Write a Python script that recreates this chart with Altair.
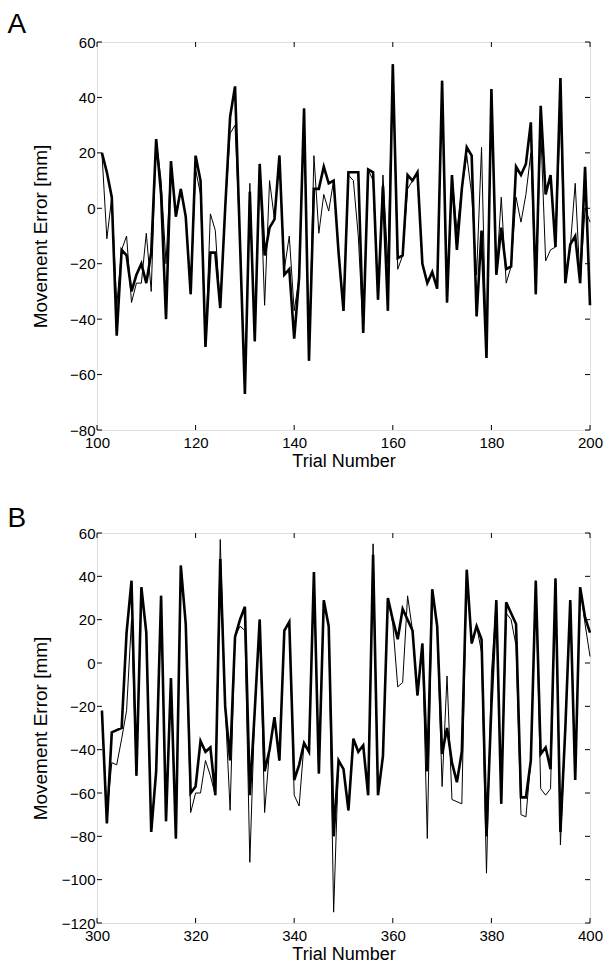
import altair as alt
import pandas as pd

# ---------------- data ----------------
trials_a = list(range(101, 201))
thick_a = [20, 13, 4, -46, -15, -17, -30, -24, -20, -27,
           -16, 25, 5, -40, 17, -3, 7, -3, -31, 19,
           10, -50, -16, -16, -36, 0, 33, 44, -12, -67,
           6, -48, 16, -17, -7, -4, 19, -24, -22, -47,
           -25, 36, -55, 7, 7, 15, 9, 10, -16, -37,
           13, 13, 13, -45, 14, 13, -33, 8, -37, 52,
           -18, -17, 12, 10, 13, -20, -27, -23, -29, 46,
           -34, 12, -15, 7, 22, 19, -39, -8, -54, 43,
           -24, -7, -22, -21, 15, 12, 16, 31, -31, 37,
           5, 12, -14, 47, -27, -13, -10, -27, 15, -35]
thin_a = [20, -11, 4, -35, -15, -10, -34, -27, -27, -9,
          -30, 25, 10, -20, 17, -3, 7, -3, -31, 14,
          5, -50, -2, -8, -36, 0, 27, 30, -12, -67,
          9, -48, 16, -35, 10, -4, 19, -22, -10, -37,
          -25, 36, -55, 19, -9, 5, -1, 10, -16, -37,
          12, 10, -10, -45, 14, 10, -33, 12, -20, 52,
          -22, -17, 7, 10, 13, -20, -27, -23, -29, 46,
          -34, 12, -8, 7, 19, 5, -24, 22, -54, 43,
          -24, 4, -27, -21, 4, -5, 5, 20, -31, 29,
          -19, -15, -14, 35, -27, -14, 9, -27, 0, -5]

trials_b = list(range(301, 401))
thick_b = [-22, -74, -32, -31, -30, 14, 38, -52, 35, 14,
           -78, -50, 31, -73, -7, -81, 45, 18, -60, -57,
           -36, -41, -39, -61, 48, -20, -45, 12, 20, 26,
           -61, -22, 20, -50, -40, -25, -45, 15, 19, -54,
           -47, -37, -41, 42, -51, 29, 17, -80, -45, -49,
           -68, -35, -41, -38, -61, 50, -61, -43, 30, 20,
           11, 25, 20, 15, -15, 9, -50, 34, 17, -42,
           -30, -46, -55, -41, 43, 9, 17, 11, -80, -20,
           29, -65, 28, 23, 18, -62, -62, -45, 38, -42,
           -39, -49, 39, -78, -30, 29, -54, 35, 21, 14]
thin_b = [-22, -70, -46, -47, -35, -22, 20, -52, 35, 14,
          -78, -50, 31, -73, -7, -81, 45, 18, -69, -60,
          -60, -45, -52, -61, 57, -20, -68, 12, 17, 15,
          -92, -22, 20, -69, -40, -25, -45, 15, 19, -61,
          -66, -37, -41, 42, -51, 29, 17, -115, -45, -49,
          -68, -35, -41, -38, -61, 55, -61, -43, 30, 18,
          -11, -9, 31, 15, -15, 9, -81, 34, 17, -57,
          -6, -63, -64, -65, 43, 9, 17, 5, -97, -5,
          29, -65, 23, 20, 8, -70, -71, -45, 38, -58,
          -61, -58, 39, -84, -30, 29, -54, 35, 18, 3]

xticks_a = [100, 120, 140, 160, 180, 200]
yticks_a = [-80, -60, -40, -20, 0, 20, 40, 60]
xticks_b = [300, 320, 340, 360, 380, 400]
yticks_b = [-120, -100, -80, -60, -40, -20, 0, 20, 40, 60]

FONT = "Liberation Sans"
W = 493
HA = 388
HB = 390
TICK = 5


def panel(trials, thick, thin, xdom, ydom, xticks, yticks, H, letter, letter_y):
    df_thin = pd.DataFrame({"trial": trials, "error": thin})
    df_thick = pd.DataFrame({"trial": trials, "error": thick})
    xs = alt.Scale(domain=xdom, nice=False, zero=False)
    ys = alt.Scale(domain=ydom, nice=False, zero=False)
    xax = alt.Axis(values=xticks, title="Trial Number", grid=False, domain=False,
                   ticks=False, tickSize=0, labelPadding=5, labelFont=FONT,
                   labelFontSize=15, labelColor="black", titleFont=FONT,
                   titleFontSize=18, titleFontWeight="normal", titleColor="black",
                   titleY=36, titleBaseline="alphabetic", labelFlush=False)
    yax = alt.Axis(values=yticks, title="Movement Error [mm]", grid=False, domain=False,
                   ticks=False, tickSize=0, labelPadding=2, labelFont=FONT,
                   labelFontSize=15, labelColor="black", titleFont=FONT,
                   titleFontSize=19, titleFontWeight="normal", titleColor="black",
                   titleX=-47, labelFlush=False)
    enc_x = alt.X("trial:Q", scale=xs, axis=xax, title="Trial Number")
    enc_y = alt.Y("error:Q", scale=ys, axis=yax, title="Movement Error [mm]")
    thin_line = alt.Chart(df_thin).mark_line(color="black", strokeWidth=1).encode(
        x=enc_x, y=enc_y)
    thick_line = alt.Chart(df_thick).mark_line(color="black", strokeWidth=2.6).encode(
        x=enc_x, y=enc_y)
    xt = pd.DataFrame({"trial": xticks})
    yt = pd.DataFrame({"error": yticks})
    xt_bottom = alt.Chart(xt).mark_rule(color="black", strokeWidth=1).encode(
        x=enc_x, y=alt.value(H), y2=alt.value(H - TICK))
    xt_top = alt.Chart(xt).mark_rule(color="black", strokeWidth=1).encode(
        x=enc_x, y=alt.value(0), y2=alt.value(TICK))
    yt_left = alt.Chart(yt).mark_rule(color="black", strokeWidth=1).encode(
        y=enc_y, x=alt.value(0), x2=alt.value(TICK))
    yt_right = alt.Chart(yt).mark_rule(color="black", strokeWidth=1).encode(
        y=enc_y, x=alt.value(W - TICK), x2=alt.value(W))
    lab = alt.Chart(pd.DataFrame({"t": [letter]})).mark_text(
        align="left", baseline="alphabetic", fontSize=28, font=FONT, color="black"
    ).encode(text="t:N", x=alt.value(-89.6), y=alt.value(letter_y))
    return alt.layer(thin_line, thick_line, xt_bottom, xt_top, yt_left, yt_right, lab).properties(
        width=W, height=H)


pa = panel(trials_a, thick_a, thin_a, [100, 200], [-80, 60], xticks_a, yticks_a, HA, "A", -9)
pb = panel(trials_b, thick_b, thin_b, [300, 400], [-120, 60], xticks_b, yticks_b, HB, "B", -6)

chart = alt.vconcat(pa, pb, spacing=103, bounds="flush").properties(
    padding={"left": 6, "top": 10, "right": 0, "bottom": 0}
).configure_view(stroke="black", strokeWidth=1).configure(background="white")

chart.save("out.html", embed_options={"renderer": "svg", "actions": False})
